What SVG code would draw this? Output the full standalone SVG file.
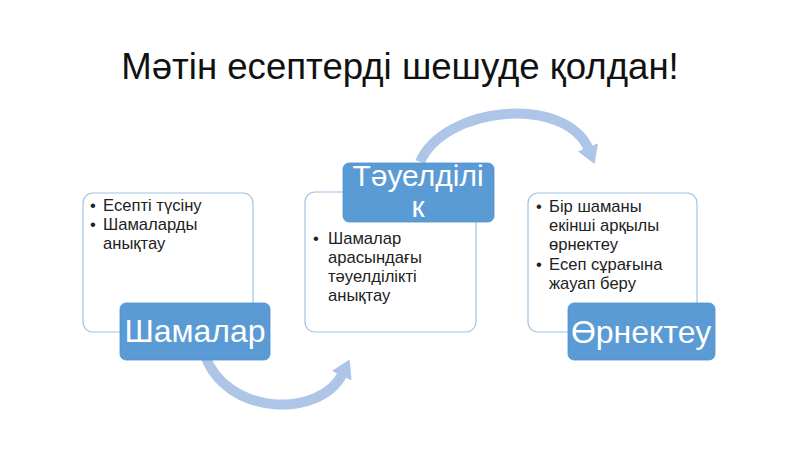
<svg xmlns="http://www.w3.org/2000/svg" width="800" height="450" viewBox="0 0 800 450">
  <defs>
    <style>
      .title { font-family: "Liberation Sans", Arial, sans-serif; font-size: 36.6px; fill: #111111; }
      .outline { fill: #ffffff; stroke: #9dc3e6; stroke-width: 1.2; }
      .label { fill: #5b9bd5; stroke: #4f8fcb; stroke-width: 0.8; }
      .labeltext { font-family: "Liberation Sans", Arial, sans-serif; font-size: 32px; fill: #ffffff; text-anchor: middle; }
      .body { font-family: "Liberation Sans", Arial, sans-serif; font-size: 16.6px; fill: #222222; }
      .arc { fill: none; stroke: #adc6e8; stroke-width: 10; }
    </style>
    <marker id="head" markerUnits="userSpaceOnUse" markerWidth="20" markerHeight="22" viewBox="0 0 20 22" refX="3" refY="11" orient="auto">
      <path d="M0,0 L18,11 L0,22 z" fill="#adc6e8"/>
    </marker>
  </defs>

  <rect width="800" height="450" fill="#ffffff"/>

  <text class="title" x="400" y="79" text-anchor="middle">Мәтін есептерді шешуде қолдан!</text>

  <g id="connectors">
    <path class="arc" d="M 205 355 C 225 415, 320 420, 343 373" marker-end="url(#head)"/>
    <path class="arc" d="M 420 162 C 445 105, 567 95, 589 150" marker-end="url(#head)"/>
  </g>

  <g id="node-shamalar">
    <rect class="outline" x="83" y="193" width="170" height="139" rx="10"/>
    <text class="body" x="93" y="211" text-anchor="middle">•</text>
    <text class="body" x="103" y="211">Есепті түсіну</text>
    <text class="body" x="93" y="230" text-anchor="middle">•</text>
    <text class="body" x="103" y="230">Шамаларды</text>
    <text class="body" x="103" y="249">анықтау</text>
    <rect class="label" x="120" y="303" width="150" height="57" rx="6"/>
    <text class="labeltext" x="195" y="342">Шамалар</text>
  </g>

  <g id="node-tauelidilik">
    <rect class="outline" x="305" y="192" width="171" height="140" rx="10"/>
    <text class="body" x="316" y="244" text-anchor="middle">•</text>
    <text class="body" x="328" y="244">Шамалар</text>
    <text class="body" x="328" y="263">арасындағы</text>
    <text class="body" x="328" y="282">тәуелділікті</text>
    <text class="body" x="328" y="301">анықтау</text>
    <rect class="label" x="343" y="163" width="151" height="59" rx="6"/>
    <text class="labeltext" x="418" y="186" style="font-size:30px">Тәуелділі</text>
    <text class="labeltext" x="418" y="217" style="font-size:30px">к</text>
  </g>

  <g id="node-ornektey">
    <rect class="outline" x="528" y="193" width="169" height="139" rx="10"/>
    <text class="body" x="539" y="212" text-anchor="middle">•</text>
    <text class="body" x="549" y="212">Бір шаманы</text>
    <text class="body" x="549" y="231">екінші арқылы</text>
    <text class="body" x="549" y="250">өрнектеу</text>
    <text class="body" x="539" y="270" text-anchor="middle">•</text>
    <text class="body" x="549" y="270">Есеп сұрағына</text>
    <text class="body" x="549" y="289">жауап беру</text>
    <rect class="label" x="568" y="303" width="147" height="57" rx="6"/>
    <text class="labeltext" x="641" y="343">Өрнектеу</text>
  </g>
</svg>
